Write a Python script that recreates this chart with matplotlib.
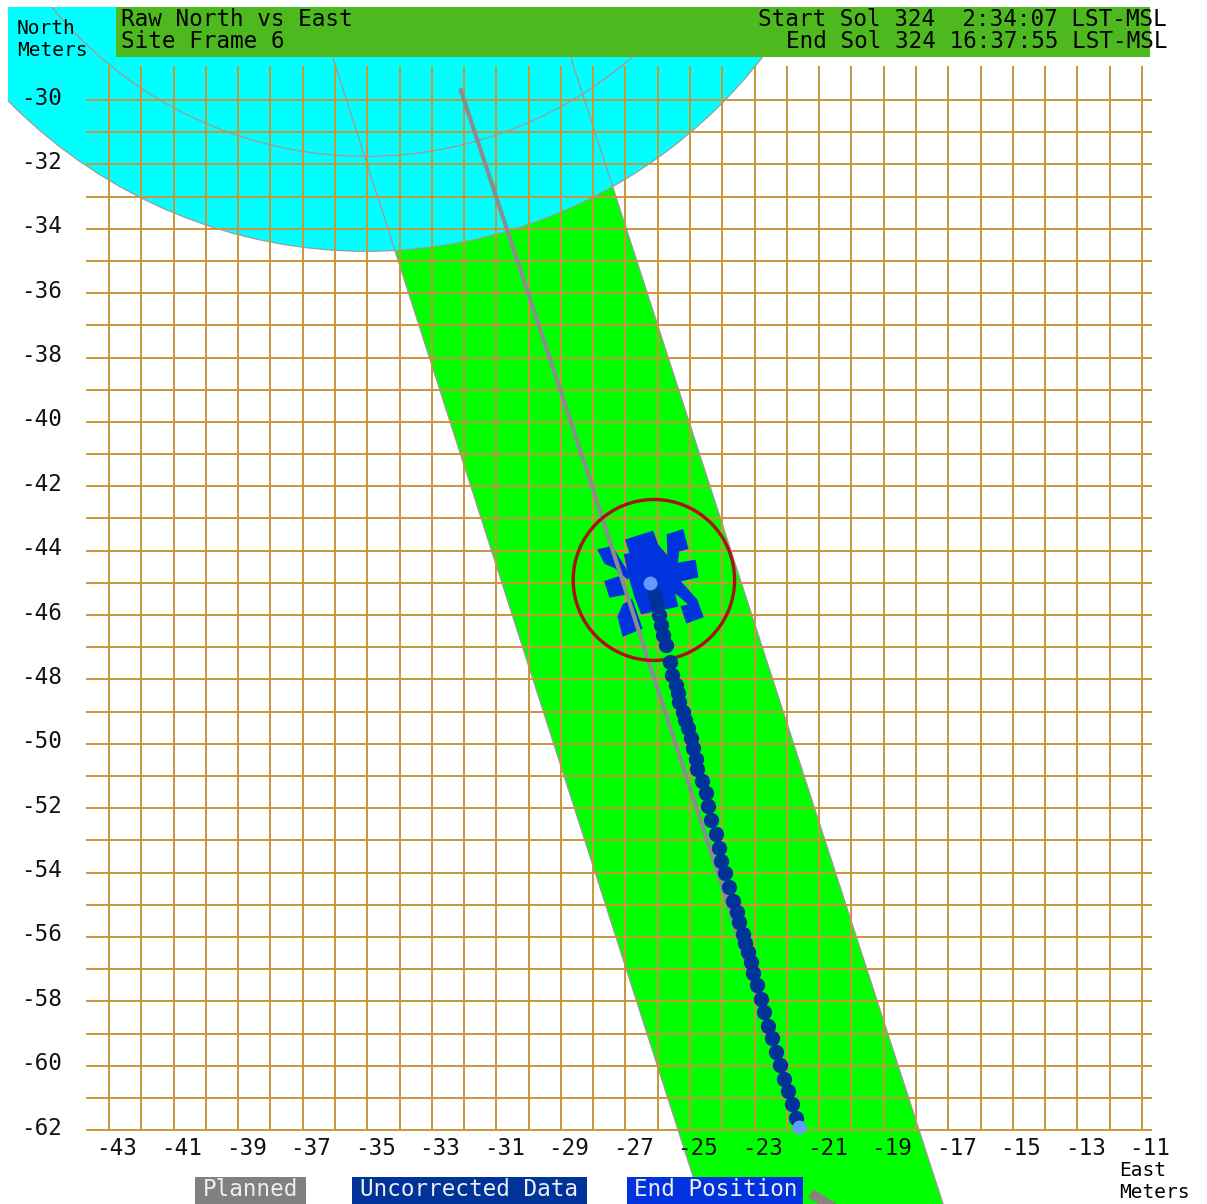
import matplotlib
matplotlib.use('Agg')

import matplotlib.pyplot as plt
import numpy as np
from matplotlib.patches import Circle, Polygon, Rectangle

# ==========================================
# DATA (east / north, meters)
# ==========================================
east_ticks = list(range(-43, -10, 2))
north_ticks = list(range(-30, -63, -2))

data_east = [-26.09, -26.02, -25.96, -25.90, -25.84, -25.74, -25.62, -25.56, -25.43, -25.37,
             -25.34, -25.22, -25.16, -25.06, -24.97, -24.91, -24.82, -24.78, -24.63, -24.51,
             -24.44, -24.35, -24.20, -24.10, -24.04, -23.92, -23.79, -23.67, -23.55, -23.48,
             -23.36, -23.30, -23.20, -23.11, -23.05, -22.93, -22.80, -22.71, -22.59, -22.46,
             -22.34, -22.21, -22.09, -21.97, -21.84, -21.72]
data_north = [-45.38, -45.69, -46.00, -46.31, -46.62, -46.93, -47.46, -47.86, -48.17, -48.42,
              -48.70, -49.01, -49.26, -49.51, -49.82, -50.13, -50.47, -50.78, -51.16, -51.53,
              -51.93, -52.37, -52.80, -53.24, -53.64, -54.01, -54.45, -54.88, -55.23, -55.54,
              -55.91, -56.19, -56.47, -56.78, -57.12, -57.49, -57.93, -58.33, -58.77, -59.14,
              -59.57, -59.98, -60.41, -60.79, -61.19, -61.62]

planned_east = [-32.10, -28.10, -26.33, -24.07, -21.66]
planned_north = [-29.70, -41.80, -47.30, -54.23, -61.90]
planned_tail_east = [-21.13, -20.40]
planned_tail_north = [-64.05, -64.50]

end_east = [-26.24, -21.62]
end_north = [-45.00, -61.90]

# turning in place at the end point
turn_main = [(-26.98, -43.67), (-26.16, -43.41), (-26.01, -43.82), (-25.75, -44.13), (-25.44, -44.41),
             (-24.85, -44.31), (-24.77, -44.81), (-25.31, -44.93), (-25.52, -45.22), (-25.39, -45.72),
             (-26.50, -45.95), (-26.69, -45.45), (-26.88, -44.81), (-27.02, -44.13), (-26.84, -44.10)]
turn_arms = [
    [(-25.70, -43.51), (-25.23, -43.36), (-25.08, -43.93), (-25.36, -44.00), (-25.41, -44.45), (-25.67, -44.34)],
    [(-25.49, -45.27), (-25.31, -44.96), (-24.80, -45.53), (-24.61, -46.05), (-25.10, -46.23), (-25.26, -45.74), (-25.00, -45.69)],
    [(-27.84, -43.98), (-27.43, -43.88), (-26.88, -44.76), (-26.94, -44.86), (-27.32, -44.52), (-27.63, -44.39)],
    [(-27.63, -44.96), (-27.17, -44.81), (-26.94, -45.33), (-27.48, -45.43)],
    [(-27.07, -45.69), (-26.81, -45.53), (-26.50, -46.41), (-27.07, -46.64), (-27.22, -46.05)],
]

corridor = [(-36.06, -28.70), (-28.69, -28.70), (-17.16, -64.30), (-24.63, -64.30)]
keepin_center = (-35.03, -19.2)
keepin_r = 15.5
inner_r = 12.55
goal_center = (-26.12, -44.91)
goal_r = 2.5

# ==========================================
# AXES: whole figure, no frame
# ==========================================
W, H = 1207, 1204
fig = plt.figure(figsize=(W / 100, H / 100), dpi=100)
ax = fig.add_axes([0, 0, 1, 1])
ax.set_xlim(-46.377, -8.985)
ax.set_ylim(-64.296, -26.893)
ax.axis('off')

FONT = 'DejaVu Sans Mono'
FS = 16.3
FS_UNITS = 14
GRID = '#c8963e'
GRAY = '#a09a98'
TURN = '#0033dd'

clip = Rectangle((-46.13, -64.4), 40, 37.3, transform=ax.transData)

p = Polygon(corridor, closed=True, facecolor='#00ff00', edgecolor='none', zorder=1)
ax.add_patch(p)
p.set_clip_path(clip)

c = Circle(keepin_center, keepin_r, facecolor='#00ffff', edgecolor=GRAY, lw=0.9, zorder=2)
ax.add_patch(c)
c.set_clip_path(clip)

c = Circle(keepin_center, inner_r, facecolor='none', edgecolor=GRAY, lw=1.0, zorder=3)
ax.add_patch(c)
c.set_clip_path(clip)

ax.plot([corridor[0][0], corridor[3][0]], [corridor[0][1], corridor[3][1]], color=GRAY, lw=1.0, zorder=3)
ax.plot([corridor[1][0], corridor[2][0]], [corridor[1][1], corridor[2][1]], color=GRAY, lw=1.0, zorder=3)

# grid
ax.hlines(range(-30, -63, -1), -43.71, -10.69, color=GRID, lw=1.4, zorder=4)
ax.vlines(range(-43, -10), -62, -28.94, color=GRID, lw=1.4, zorder=4)

# paths
ax.add_patch(Polygon(turn_main, closed=True, facecolor=TURN, edgecolor=TURN, lw=1.2, zorder=5))
for arm in turn_arms:
    ax.add_patch(Polygon(arm, closed=True, facecolor=TURN, edgecolor=TURN, lw=1.2, zorder=5))

ax.plot(planned_east, planned_north, color='#8c8c8c', lw=3, zorder=6)
ax.plot(planned_tail_east, planned_tail_north, color='#8c8080', lw=7, zorder=6)

ax.add_patch(Circle(goal_center, goal_r, facecolor='none', edgecolor='#aa1111', lw=2.4, zorder=7))
ax.plot(data_east, data_north, 'o', color='#003399', ms=11, mew=0, zorder=8)
ax.plot(end_east, end_north, 'o', color='#6699ff', ms=10, mew=0, zorder=9)

# ==========================================
# TICK LABELS
# ==========================================
for e in east_ticks:
    ax.annotate(str(e), (e, -62), xytext=(8, -18), textcoords='offset pixels',
                ha='center', va='center', family=FONT, fontsize=FS, color='#111111', zorder=10)
for n in north_ticks:
    ax.annotate(str(n), (-43, n), xytext=(-47, 2), textcoords='offset pixels',
                ha='right', va='center', family=FONT, fontsize=FS, color='#111111', zorder=10)

# ==========================================
# HEADER AND LEGEND (figure fraction from pixels)
# ==========================================
def px(x, y):
    return x / W, 1 - y / H

def box(x0, y0, x1, y1, color):
    fig.patches.append(Rectangle(px(x0, y1), (x1 - x0) / W, (y1 - y0) / H, transform=fig.transFigure,
                                 facecolor=color, edgecolor='none', zorder=20, figure=fig))

def label(x, y, s, ha='left', color='#000000', size=FS):
    fig.text(*px(x, y), s, ha=ha, va='center', family=FONT, fontsize=size, color=color, zorder=30)

box(116, 7, 1150, 57, '#4eb91e')
box(195, 1177, 306, 1204, '#808080')
box(352, 1177, 587, 1204, '#003399')
box(627, 1177, 803, 1204, '#0033dd')

label(17, 29, 'North', size=FS_UNITS)
label(17, 51, 'Meters', size=FS_UNITS)
label(121, 20, 'Raw North vs East')
label(121, 41, 'Site Frame 6')
label(1167, 20, 'Start Sol 324  2:34:07 LST-MSL', ha='right')
label(1167, 41, 'End Sol 324 16:37:55 LST-MSL', ha='right')
label(203, 1190, 'Planned', color='#eeeeee')
label(360, 1190, 'Uncorrected Data', color='#eeeeee')
label(634, 1190, 'End Position', color='#eeeeee')
label(1119, 1171, 'East', size=FS_UNITS)
label(1119, 1192, 'Meters', size=FS_UNITS)

fig.savefig('out.png', dpi=100, facecolor='white')
